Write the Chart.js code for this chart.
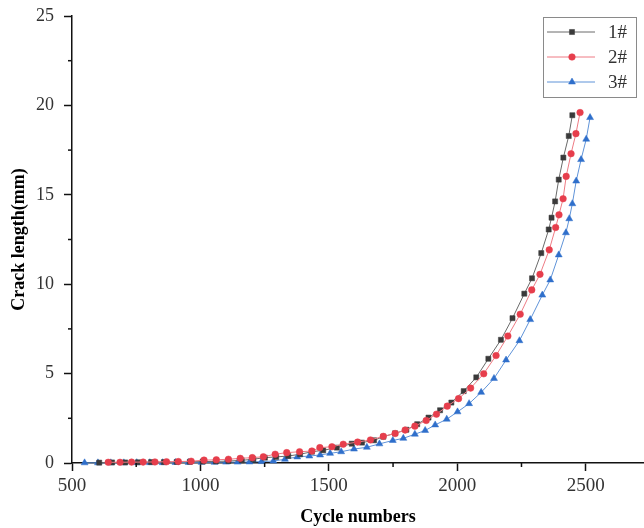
<!DOCTYPE html>
<html><head><meta charset="utf-8">
<script src="https://cdn.jsdelivr.net/npm/chart.js@4/dist/chart.umd.min.js"></script>
<style>html,body{margin:0;padding:0;background:#fff}#wrap{width:644px;height:528px;position:relative}</style>
</head><body><div id="wrap"><canvas id="c" width="644" height="528"></canvas></div>
<script>
const seriesNames = ['1#', '2#', '3#'];
const cycles1 = [606,656,707,757,808,858,908,959,1009,1060,1109,1161,1206,1251,1295,1342,1388,1434,1478,1531,1589,1629,1676,1712,1758,1802,1844,1888,1933,1977,2025,2074,2121,2170,2215,2261,2291,2327,2356,2367,2381,2395,2413,2434,2448];
const crack1 = [0.02,0.03,0.03,0.04,0.05,0.05,0.06,0.07,0.08,0.09,0.11,0.15,0.21,0.30,0.34,0.39,0.49,0.63,0.71,0.86,1.08,1.14,1.27,1.47,1.66,1.86,2.17,2.54,2.95,3.38,4.02,4.79,5.83,6.89,8.10,9.47,10.33,11.74,13.06,13.72,14.63,15.85,17.08,18.29,19.45];
const cycles2 = [641,687,732,777,823,868,914,964,1014,1062,1109,1155,1202,1245,1291,1336,1386,1434,1465,1512,1556,1612,1662,1712,1758,1797,1835,1879,1919,1961,2005,2052,2103,2151,2197,2245,2290,2322,2358,2383,2396,2412,2424,2443,2462,2478];
const crack2 = [0.04,0.04,0.05,0.05,0.06,0.07,0.08,0.10,0.16,0.18,0.21,0.26,0.30,0.35,0.49,0.58,0.63,0.67,0.86,0.91,1.05,1.17,1.29,1.49,1.65,1.84,2.06,2.38,2.73,3.18,3.60,4.19,4.99,6.01,7.10,8.32,9.68,10.55,11.92,13.17,13.88,14.78,16.03,17.30,18.42,19.60];
const cycles3 = [549,601,651,702,752,803,853,903,954,1004,1055,1100,1145,1191,1238,1284,1329,1377,1424,1466,1505,1548,1598,1648,1697,1749,1790,1835,1875,1914,1959,2001,2046,2093,2143,2190,2242,2284,2331,2362,2395,2423,2436,2448,2463,2482,2502,2517];
const crack3 = [0.01,0.01,0.01,0.01,0.02,0.02,0.02,0.03,0.03,0.04,0.04,0.05,0.05,0.06,0.08,0.11,0.21,0.34,0.39,0.45,0.54,0.63,0.78,0.88,1.07,1.26,1.38,1.61,1.82,2.13,2.45,2.86,3.32,3.95,4.73,5.76,6.84,8.02,9.39,10.24,11.64,12.88,13.66,14.50,15.77,16.97,18.11,19.32];
const xTicks = [500, 1000, 1500, 2000, 2500];
const yTicks = [0, 5, 10, 15, 20, 25];

const pts = (xs, ys) => xs.map((x, i) => ({x: x, y: ys[i]}));
const styles = [
  {marker: '#3a3a3a', line: '#6a6a6a', shape: 'rect', r: 3.6, order: 1},
  {marker: '#e63e4c', line: '#ee7b84', shape: 'circle', r: 3.3, order: 0},
  {marker: '#2f6fcb', line: '#5f93d8', shape: 'triangle', r: 4, order: 2}
];
const raw = [[cycles1, crack1], [cycles2, crack2], [cycles3, crack3]];
const datasets = raw.map((d, i) => ({
  label: seriesNames[i],
  data: pts(d[0], d[1]),
  showLine: true,
  borderColor: styles[i].line,
  borderWidth: 1,
  pointStyle: styles[i].shape,
  pointRadius: styles[i].r,
  pointBackgroundColor: styles[i].marker,
  pointBorderColor: styles[i].marker,
  pointBorderWidth: 0.5,
  order: styles[i].order,
  clip: false,
  tension: 0
}));

const serif = "'Liberation Serif', 'Times New Roman', serif";

const minorTicks = {
  id: 'minorTicks',
  afterDraw(chart) {
    const ctx = chart.ctx;
    const xs = chart.scales.x, ys = chart.scales.y;
    ctx.save();
    ctx.strokeStyle = '#111';
    ctx.lineWidth = 1.5;
    for (let i = 0; i < xTicks.length; i++) {
      const v = xTicks[i] + (xTicks[1] - xTicks[0]) / 2;
      if (v > xs.max) continue;
      const p = xs.getPixelForValue(v);
      ctx.beginPath(); ctx.moveTo(p, xs.top); ctx.lineTo(p, xs.top + 4); ctx.stroke();
    }
    for (let i = 0; i < yTicks.length - 1; i++) {
      const v = (yTicks[i] + yTicks[i + 1]) / 2;
      const p = ys.getPixelForValue(v);
      ctx.beginPath(); ctx.moveTo(ys.right, p); ctx.lineTo(ys.right - 4, p); ctx.stroke();
    }
    ctx.restore();
  }
};

const boxLegend = {
  id: 'boxLegend',
  afterDraw(chart) {
    const ctx = chart.ctx;
    const a = chart.chartArea;
    const w = 93, h = 80;
    const x0 = a.right - w - 8, y0 = a.top + 1;
    ctx.save();
    ctx.strokeStyle = '#8a8a8a';
    ctx.lineWidth = 1;
    ctx.strokeRect(x0 + 0.5, y0 + 0.5, w, h);
    chart.data.datasets.forEach((ds, i) => {
      const cy = y0 + 15 + i * 25;
      ctx.strokeStyle = ds.borderColor;
      ctx.lineWidth = 1;
      ctx.beginPath(); ctx.moveTo(x0 + 4, cy); ctx.lineTo(x0 + 52, cy); ctx.stroke();
      ctx.fillStyle = ds.pointBackgroundColor;
      ctx.strokeStyle = ds.pointBorderColor;
      ctx.lineWidth = 0.5;
      Chart.helpers.drawPoint(ctx, {pointStyle: ds.pointStyle, radius: ds.pointRadius, borderWidth: 0.5, rotation: 0}, x0 + 29, cy);
      ctx.fillStyle = '#333';
      ctx.font = '19px ' + serif;
      ctx.textBaseline = 'middle';
      ctx.textAlign = 'left';
      ctx.fillText(ds.label, x0 + 65, cy + 1);
    });
    ctx.restore();
  }
};

new Chart(document.getElementById('c'), {
  type: 'scatter',
  data: {datasets: datasets},
  options: {
    responsive: false,
    animation: false,
    devicePixelRatio: 1,
    layout: {autoPadding: false, padding: {top: 16, right: 0, bottom: 0, left: 0}},
    plugins: {legend: {display: false}, tooltip: {enabled: false}},
    scales: {
      x: {
        type: 'linear', min: 500, max: 2727,
        afterBuildTicks: s => { s.ticks = xTicks.map(v => ({value: v})); },
        afterFit: s => { s.height = 65; s.paddingRight = 0; s.paddingLeft = 0; },
        border: {display: true, color: '#111', width: 1.5},
        grid: {drawOnChartArea: false, tickLength: 8, tickColor: '#111', tickWidth: 1.5},
        ticks: {color: '#333', padding: 4, maxRotation: 0, font: {family: serif, size: 19}, callback: v => String(v)},
        title: {display: true, text: 'Cycle numbers', color: '#000', padding: {top: 0, bottom: 0}, font: {family: serif, size: 18, weight: 'bold'}}
      },
      y: {
        type: 'linear', min: 0, max: 25,
        afterBuildTicks: s => { s.ticks = yTicks.map(v => ({value: v})); },
        afterFit: s => { s.width = 72; s.paddingTop = 0; s.paddingBottom = 0; },
        border: {display: true, color: '#111', width: 1.5},
        grid: {drawOnChartArea: false, tickLength: 8, tickColor: '#111', tickWidth: 1.5},
        ticks: {color: '#333', padding: 10, font: {family: serif, size: 18}, callback: v => String(v)},
        title: {display: true, text: 'Crack length(mm)', color: '#000', padding: {top: 9, bottom: 0}, font: {family: serif, size: 18, weight: 'bold'}}
      }
    }
  },
  plugins: [minorTicks, boxLegend]
});
</script></body></html>
